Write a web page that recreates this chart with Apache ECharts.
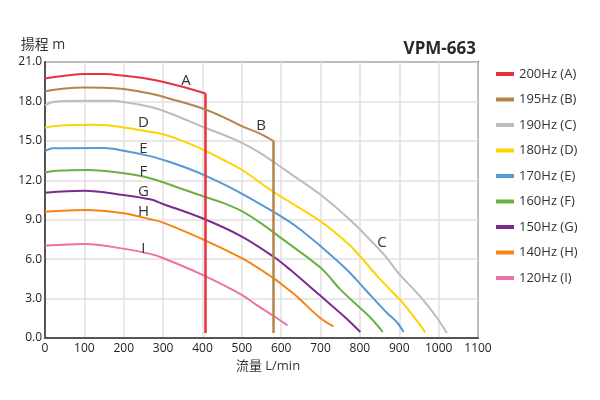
<!DOCTYPE html>
<html>
<head>
<meta charset="utf-8">
<script src="https://cdn.jsdelivr.net/npm/echarts@6/dist/echarts.min.js"></script>
<style>
  html, body { margin: 0; padding: 0; background: #fff; }
  #chart { width: 600px; height: 400px; }
</style>
</head>
<body>
<div id="chart"></div>
<script>
  // 曲線資料 [流量 L/min, 揚程 m]
  var curveA = [[0,19.74],[50,19.95],[100,20.08],[150,20.08],[200,19.95],[267,19.69],[352,19.1],[408,18.6]];
  var curveB = [[0,18.78],[50,18.98],[100,19.06],[150,19.05],[200,18.95],[267,18.6],[330,18.1],[400,17.46],[450,16.85],[500,16.12],[550,15.5],[581,14.98]];
  var curveC = [[0,17.71],[25,17.98],[100,18.05],[170,18.05],[200,17.95],[267,17.59],[330,16.95],[400,16.07],[450,15.5],[500,14.85],[540,14.2],[580,13.41],[619,12.6],[701,10.88],[780,8.85],[826,7.46],[866,6.18],[898,4.94],[953,3.16],[996,1.52],[1021,0.38]];
  var curveD = [[0,15.99],[30,16.14],[130,16.22],[200,16.02],[267,15.69],[300,15.5],[350,15.0],[400,14.35],[450,13.6],[500,12.8],[580,11.13],[701,8.85],[771,7.15],[801,6.2],[843,4.75],[877,3.67],[911,2.6],[945,1.3],[966,0.43]];
  var curveE = [[0,14.22],[20,14.43],[150,14.45],[200,14.25],[267,13.84],[300,13.55],[350,13.05],[400,12.45],[483,11.26],[580,9.61],[640,8.45],[701,6.96],[767,5.19],[814,3.67],[869,1.9],[894,1.2],[911,0.45]];
  var curveF = [[0,12.6],[30,12.72],[110,12.78],[200,12.53],[267,12.15],[352,11.3],[400,10.8],[450,10.3],[500,9.65],[550,8.7],[600,7.6],[701,5.32],[750,3.7],[800,2.3],[830,1.45],[858,0.46]];
  var curveG = [[0,11.06],[100,11.21],[199,10.88],[267,10.55],[300,10.2],[400,9.11],[500,7.72],[580,6.2],[623,5.19],[682,3.67],[725,2.55],[765,1.5],[801,0.46]];
  var curveH = [[0,9.61],[100,9.74],[199,9.49],[267,9.04],[300,8.78],[400,7.52],[500,6.07],[580,4.56],[619,3.67],[640,3.16],[699,1.52],[733,0.88]];
  var curveI = [[0,7.03],[100,7.16],[199,6.8],[267,6.4],[301,6.07],[400,4.81],[500,3.29],[538,2.5],[580,1.69],[616,0.96]];

  // 截止線 [流量, 上端, 下端]
  var cutA = [408, 18.6, 0.38];
  var cutB = [581, 14.98, 0.38];

  var names = ['200Hz (A)','195Hz (B)','190Hz (C)','180Hz (D)','170Hz (E)','160Hz (F)','150Hz (G)','140Hz (H)','120Hz (I)'];
  var letters = ['A','B','C','D','E','F','G','H','I'];
  var letterPos = [[358,19.56],[549,16.12],[856,7.26],[250,16.37],[250,14.43],[250,12.65],[250,11.13],[250,9.61],[250,6.78]];
  var colors = ['#e8313e','#b5834c','#bcbcbc','#ffd200','#5599d8','#6cb043','#7a2c91','#f58410','#ee6fa9'];
  var curves = [curveA, curveB, curveC, curveD, curveE, curveF, curveG, curveH, curveI];

  var xTicks = { min: 0, max: 1100, interval: 100 };
  var yTicks = { min: 0, max: 21, interval: 3 };

  var FONT = '"Open Sans", "Noto Sans CJK TC", sans-serif';

  function cutLine(cut, color) {
    return {
      symbol: 'none', silent: true, animation: false,
      label: { show: false },
      lineStyle: { color: color, width: 2.5, type: 'solid' },
      data: [[{ coord: [cut[0], cut[1]] }, { coord: [cut[0], cut[2]] }]]
    };
  }

  var series = curves.map(function (d, i) {
    var s = {
      name: names[i],
      type: 'line',
      data: d,
      smooth: 0.35,
      showSymbol: false,
      symbol: 'none',
      z: i < 2 ? 10 - i : 2,
      lineStyle: { color: colors[i], width: 2 },
      itemStyle: { color: colors[i] },
      markPoint: {
        symbol: 'circle', symbolSize: 0, silent: true, animation: false,
        label: { show: true, position: 'inside', color: '#333', fontSize: 15, fontFamily: FONT, formatter: letters[i] },
        data: [{ coord: letterPos[i] }]
      }
    };
    if (i === 0) s.markLine = cutLine(cutA, colors[0]);
    if (i === 1) s.markLine = cutLine(cutB, colors[1]);
    return s;
  });

  var chart = echarts.init(document.getElementById('chart'));
  chart.setOption({
    animation: false,
    color: colors,
    textStyle: { fontFamily: FONT },
    title: {
      text: 'VPM-663', right: 119, top: 36,
      textStyle: { fontSize: 17, fontWeight: 'bold', color: '#2a2a2a', fontFamily: FONT }
    },
    grid: { left: 45, top: 62, right: 122, bottom: 62, show: true, borderColor: '#555', borderWidth: 2 },
    legend: {
      orient: 'vertical', left: 491, top: 62,
      itemWidth: 18, itemHeight: 4, itemGap: 11.5, icon: 'rect',
      textStyle: { fontSize: 13, color: '#333', lineHeight: 14, fontFamily: FONT },
      data: names
    },
    xAxis: {
      type: 'value', min: xTicks.min, max: xTicks.max, interval: xTicks.interval,
      name: '流量 L/min', nameLocation: 'middle', nameGap: 20,
      nameTextStyle: { fontSize: 13, color: '#333', padding: [0, 0, 0, 13] },
      axisLine: { lineStyle: { color: '#555', width: 2 } },
      axisTick: { show: false },
      axisLabel: { color: '#222', fontSize: 12, margin: 5, formatter: function (v) { return String(v); } },
      splitLine: { lineStyle: { color: '#e0e0e0', width: 1.5 } }
    },
    yAxis: {
      type: 'value', min: yTicks.min, max: yTicks.max, interval: yTicks.interval,
      name: '揚程 m', nameLocation: 'end', nameGap: 10,
      nameTextStyle: { fontSize: 14, color: '#333', padding: [0, 0, 0, -4] },
      axisLine: { show: true, lineStyle: { color: '#555', width: 2 } },
      axisTick: { show: false },
      axisLabel: { color: '#222', fontSize: 12, margin: 3, formatter: function (v) { return v.toFixed(1); } },
      splitLine: { lineStyle: { color: '#e0e0e0', width: 1.5 } }
    },
    series: series
  });
</script>
</body>
</html>
